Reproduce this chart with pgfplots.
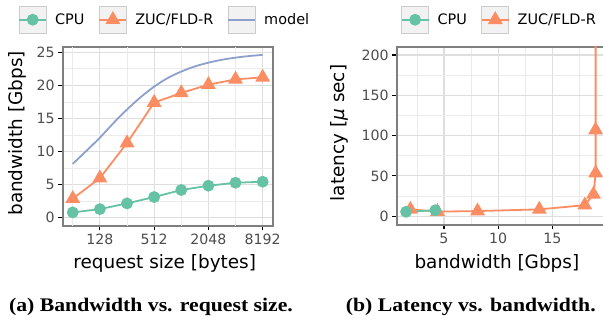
\documentclass[border=0pt]{standalone}
\usepackage{fontspec}
\setmainfont{DejaVu Sans}
\newfontfamily\capfont{Liberation Serif}
\usepackage{graphicx}
\usepackage{pgfplots}
\pgfplotsset{compat=1.18}
\definecolor{cpu}{HTML}{66C2A5}
\definecolor{zuc}{HTML}{FC8D62}
\definecolor{mdl}{HTML}{8DA0CB}
\definecolor{framec}{HTML}{7F7F7F}
\definecolor{gmaj}{HTML}{DEDEDE}
\definecolor{gmin}{HTML}{EBEBEB}
\definecolor{ticklab}{HTML}{4D4D4D}
\definecolor{keyfill}{HTML}{F2F2F2}
\definecolor{keyedge}{HTML}{CCCCCC}

\pgfplotsset{
  myaxis/.style={
    scale only axis,
    anchor=south west,
    axis line style={framec, line width=1.8bp},
    tick align=outside,
    xtick pos=bottom, ytick pos=left,
    major tick length=4.5bp,
    minor tick length=0pt,
    major tick style={black, line width=1.2bp},
    grid=both,
    major grid style={gmaj, line width=1.2bp},
    minor grid style={gmin, line width=0.7bp},
    tick label style={font=\fontsize{14.2}{16}\selectfont, text=ticklab},
    /pgf/number format/assume math mode=true,
    label style={font=\fontsize{18.5}{21}\selectfont},
    legend columns=-1,
    legend style={draw=none, fill=none, inner sep=0pt, outer sep=0pt,
      font=\fontsize{14.5}{17}\selectfont, anchor=west,
      nodes={inner sep=0pt},
      /tikz/every odd column/.append style={column sep=8bp},
      /tikz/every even column/.append style={column sep=14bp}},
    legend image code/.code={
      \draw[draw=keyedge, fill=keyfill, line width=1.2bp, solid] (0bp,-13.5bp) rectangle (27bp,13.5bp);
      \draw[mark repeat=2, mark phase=2, ##1] plot coordinates {(0bp,0bp) (13.5bp,0bp) (27bp,0bp)};
    },
  },
  cpustyle/.style={color=cpu, line width=1.8bp, mark=*, mark size=5bp, mark options={solid, fill=cpu, draw=cpu}},
  zucstyle/.style={color=zuc, line width=1.8bp, mark=triangle*, mark size=6.8bp, mark options={solid, fill=zuc, draw=zuc}},
}

\begin{document}
\begin{tikzpicture}
\useasboundingbox (0,0) rectangle (603bp,320bp);
\clip (0,0) rectangle (603bp,320bp);

\begin{axis}[myaxis, at={(62.7bp,94bp)}, width=210bp, height=179.3bp,
  xmode=log, log basis x=2, xmin=49.5, xmax=10587, ymin=-1.23, ymax=25.83,
  xtick={128,512,2048,8192}, xticklabels={128,512,2048,8192},
  extra x ticks={64,256,1024,4096},
  extra x tick style={major tick length=0pt, xticklabels={}, major grid style={gmin, line width=0.7bp}},
  ytick={0,5,10,15,20,25}, minor ytick={2.5,7.5,12.5,17.5,22.5},
  xlabel={request size [bytes]}, ylabel={bandwidth [Gbps]},
  xlabel style={at={(axis description cs:0.5,0)}, anchor=center, yshift=-37.3bp, xshift=-3bp},
  ylabel style={at={(axis description cs:0,0.5)}, anchor=center, yshift=45.2bp, xshift=3bp},
  legend style={at={(axis description cs:-0.2114,1.1506)}},
]
\addplot[cpustyle] coordinates {(64,0.82) (128,1.32) (256,2.18) (512,3.14) (1024,4.2) (2048,4.85) (4096,5.3) (8192,5.45)};
\addlegendentry{CPU}
\addplot[zucstyle] coordinates {(64,2.9) (128,6.0) (256,11.3) (512,17.4) (1024,18.85) (2048,20.1) (4096,20.9) (8192,21.2)};
\addlegendentry{ZUC/FLD-R}
\addplot[mdl, line width=1.8bp, no markers, smooth] coordinates {(64,8.15) (90.5,10.1) (128,12.1) (181,14.3) (256,16.35) (362,18.2) (512,19.8) (724,21.1) (1024,22.08) (1448,22.85) (2048,23.42) (2896,23.86) (4096,24.18) (5793,24.42) (8192,24.6)};
\addlegendentry{model}
\end{axis}

\begin{axis}[myaxis, at={(396.6bp,95bp)}, width=208.5bp, height=178bp,
  xmin=0.625, xmax=19.875, ymin=-11, ymax=210,
  xtick={5,10,15}, minor xtick={2.5,7.5,12.5,17.5},
  ytick={0,50,100,150,200}, minor ytick={25,75,125,175},
  xlabel={bandwidth [Gbps]}, ylabel={latency [{\itshape μ} sec]},
  xlabel style={at={(axis description cs:0.5,0)}, anchor=center, yshift=-38.3bp, xshift=-4bp},
  ylabel style={at={(axis description cs:0,0.5)}, anchor=center, yshift=57.6bp, xshift=3bp},
  reverse legend,
  legend style={at={(axis description cs:0.0197,1.153)}},
]
\addplot[zucstyle] coordinates {(1.9,8.4) (4.4,5.6) (8.1,6.3) (13.8,8.4) (18.0,13.6) (18.8,27) (19.0,53.5) (19.0,107) (19.0,600)};
\addlegendentry{ZUC/FLD-R}
\addplot[cpustyle] coordinates {(1.5,5.4) (4.2,7.3)};
\addlegendentry{CPU}
\end{axis}

\node[anchor=base, font=\capfont\bfseries\fontsize{19.3}{22}\selectfont] at (151bp,9bp) {\scalebox{1.13}[1]{(a) Bandwidth vs. request size.}};
\node[anchor=base, font=\capfont\bfseries\fontsize{19.3}{22}\selectfont] at (470.8bp,9bp) {\scalebox{1.13}[1]{(b) Latency vs. bandwidth.}};
\end{tikzpicture}
\end{document}
